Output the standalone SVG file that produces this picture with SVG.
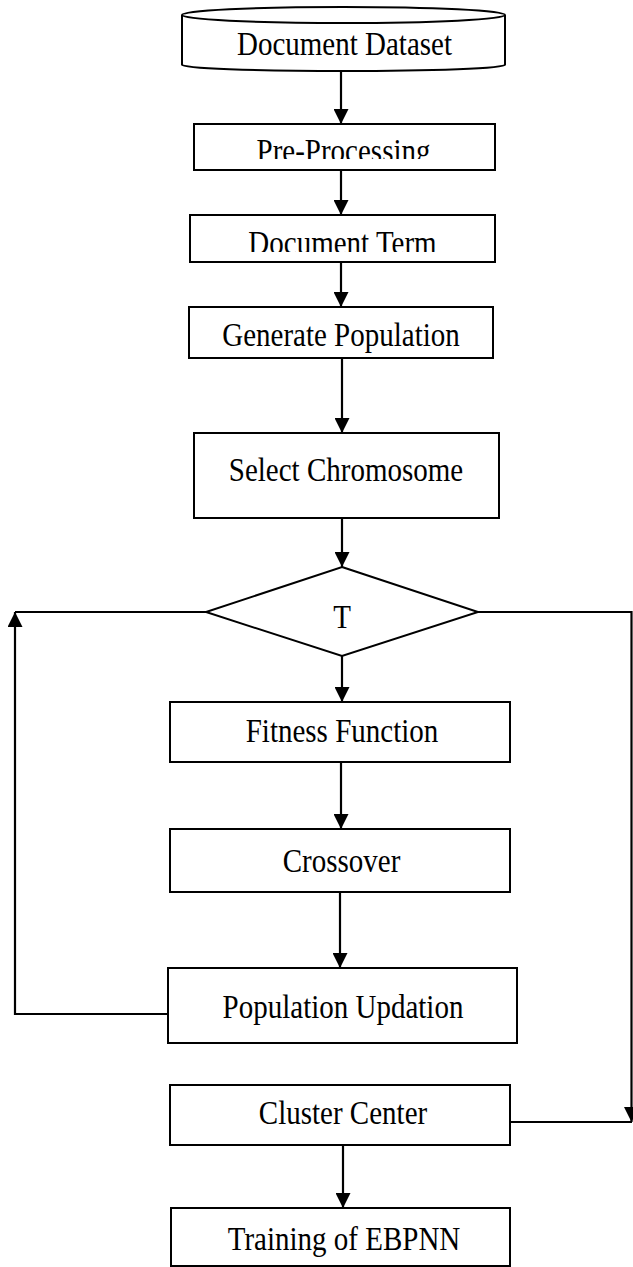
<svg xmlns="http://www.w3.org/2000/svg" width="633" height="1267" viewBox="0 0 633 1267">
<style>
.box{fill:#fff;stroke:#000;stroke-width:2}
.lbl{font-family:"Liberation Serif","Times New Roman",serif;font-size:29px;fill:#000;text-anchor:middle}
.conn{fill:none;stroke:#000;stroke-width:2.2}
</style>
<defs>
<marker id="ah" viewBox="0 0 15 15" refX="15" refY="7.5" markerWidth="15" markerHeight="15" markerUnits="userSpaceOnUse" orient="auto">
<path d="M0,0 L15,7.5 L0,15 z" fill="#000"/>
</marker>
<clipPath id="clipPre"><rect x="194" y="124" width="301" height="35"/></clipPath>
<clipPath id="clipTerm"><rect x="190" y="215" width="305" height="37"/></clipPath>
</defs>
<rect width="633" height="1267" fill="#fff"/>
<g id="connectors">
<line class="conn" x1="341" y1="70" x2="341" y2="124" marker-end="url(#ah)"/>
<line class="conn" x1="341" y1="167" x2="341" y2="215" marker-end="url(#ah)"/>
<line class="conn" x1="341" y1="262" x2="341" y2="307" marker-end="url(#ah)"/>
<line class="conn" x1="342" y1="355" x2="342" y2="433" marker-end="url(#ah)"/>
<line class="conn" x1="342" y1="518" x2="342" y2="567" marker-end="url(#ah)"/>
<line class="conn" x1="342" y1="656" x2="342" y2="702" marker-end="url(#ah)"/>
<line class="conn" x1="341" y1="760" x2="341" y2="829" marker-end="url(#ah)"/>
<line class="conn" x1="340" y1="887" x2="340" y2="968" marker-end="url(#ah)"/>
<polyline class="conn" points="168,1014 15,1014 15,612" marker-end="url(#ah)"/>
<line class="conn" x1="15" y1="612" x2="206" y2="612"/>
<polyline class="conn" points="478,612 631.5,612 631.5,1122" marker-end="url(#ah)"/>
<line class="conn" x1="510" y1="1122" x2="632" y2="1122"/>
<line class="conn" x1="343" y1="1145" x2="343" y2="1208" marker-end="url(#ah)"/>
</g>
<g id="document-dataset">
<path class="box" d="M182,15 L182,65 A161.5,6 0 0 0 505,65 L505,15"/>
<ellipse class="box" cx="343.5" cy="15" rx="161.5" ry="8"/>
<text class="lbl" transform="translate(344.5,55) scale(1,1.15)">Document Dataset</text>
</g>
<g id="pre-processing">
<rect class="box" x="194" y="124" width="301" height="46"/>
<g clip-path="url(#clipPre)"><text class="lbl" transform="translate(343.5,162) scale(1,1.15)">Pre-Processing</text></g>
</g>
<g id="document-term">
<rect class="box" x="190" y="215" width="305" height="47"/>
<g clip-path="url(#clipTerm)"><text class="lbl" transform="translate(342.5,254) scale(1,1.15)">Document Term</text></g>
</g>
<g id="generate-population">
<rect class="box" x="189" y="307" width="304" height="51"/>
<text class="lbl" transform="translate(341,346) scale(1,1.15)">Generate Population</text>
</g>
<g id="select-chromosome">
<rect class="box" x="194" y="433" width="305" height="85"/>
<text class="lbl" transform="translate(346,481) scale(1,1.15)">Select Chromosome</text>
</g>
<g id="decision-t">
<polygon class="box" points="342,567 478,612 342,656 206,612"/>
<text class="lbl" transform="translate(342,628) scale(1,1.15)">T</text>
</g>
<g id="fitness-function">
<rect class="box" x="170" y="702" width="340" height="60"/>
<text class="lbl" transform="translate(342,742) scale(1,1.15)">Fitness Function</text>
</g>
<g id="crossover">
<rect class="box" x="170" y="829" width="340" height="63"/>
<text class="lbl" transform="translate(341.5,872) scale(1,1.15)">Crossover</text>
</g>
<g id="population-updation">
<rect class="box" x="168" y="968" width="349" height="75"/>
<text class="lbl" transform="translate(343,1018) scale(1,1.15)">Population Updation</text>
</g>
<g id="cluster-center">
<rect class="box" x="170" y="1085" width="340" height="60"/>
<text class="lbl" transform="translate(343,1124) scale(1,1.15)">Cluster Center</text>
</g>
<g id="training-ebpnn">
<rect class="box" x="171" y="1208" width="339" height="58"/>
<text class="lbl" transform="translate(344,1250) scale(1,1.15)">Training of EBPNN</text>
</g>
</svg>
